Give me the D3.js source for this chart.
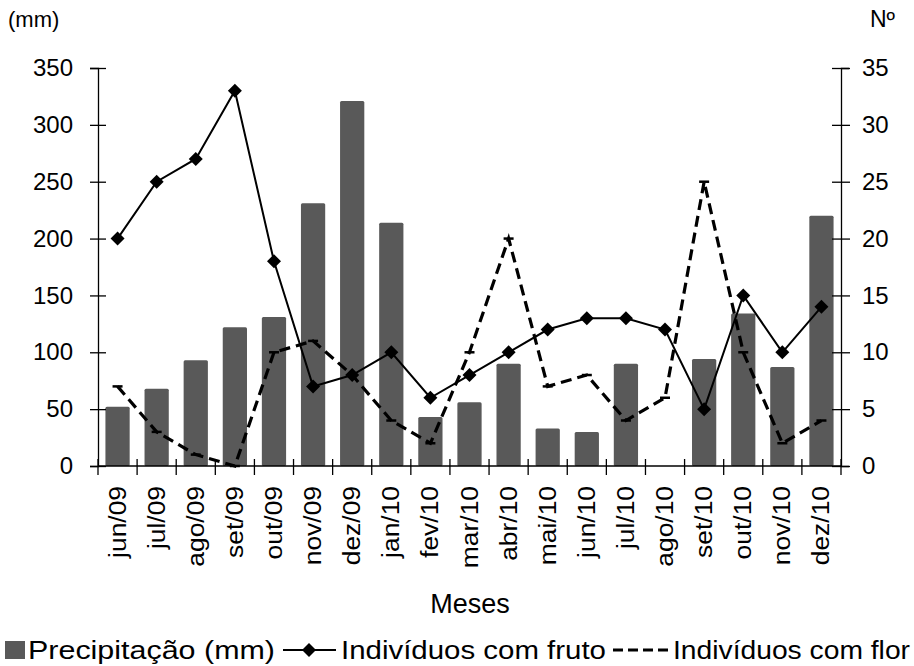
<!DOCTYPE html>
<html>
<head>
<meta charset="utf-8">
<script src="https://cdn.jsdelivr.net/npm/d3@7/dist/d3.min.js"></script>
<style>
  html, body { margin: 0; padding: 0; background: #fff; }
  svg { display: block; }
  text { font-family: "Liberation Sans", Arial, sans-serif; fill: #000; }
</style>
</head>
<body>
<svg id="chart" width="914" height="666"></svg>
<script>
const months = ["jun/09","jul/09","ago/09","set/09","out/09","nov/09","dez/09","jan/10","fev/10","mar/10","abr/10","mai/10","jun/10","jul/10","ago/10","set/10","out/10","nov/10","dez/10"];
const precipitacao = [52, 68, 93, 122, 131, 231, 321, 214, 43, 56, 90, 33, 30, 90, 0, 94, 134, 87, 220];
const fruto = [20, 25, 27, 33, 18, 7, 8, 10, 6, 8, 10, 12, 13, 13, 12, 5, 15, 10, 14];
const flor = [7, 3, 1, 0, 10, 11, 8, 4, 2, 10, 20, 7, 8, 4, 6, 25, 10, 2, 4];
const leftTicks = [0, 50, 100, 150, 200, 250, 300, 350];
const rightTicks = [0, 5, 10, 15, 20, 25, 30, 35];

const svg = d3.select("#chart");
const L = 98, R = 841, T = 68, B = 466;

const x = d3.scaleBand().domain(months).range([L, R]).paddingInner(0.38).paddingOuter(0.19);
const xc = d => x(d) + x.bandwidth() / 2;
const yL = d3.scaleLinear().domain([0, 350]).range([B, T]);
const yR = d3.scaleLinear().domain([0, 35]).range([B, T]);

// bars
svg.append("g").selectAll("rect").data(months).join("rect")
  .attr("x", d => x(d))
  .attr("width", x.bandwidth())
  .attr("y", (d, i) => yL(precipitacao[i]))
  .attr("height", (d, i) => B - yL(precipitacao[i]))
  .attr("rx", 1.5)
  .attr("fill", "#595959");

// axes
const axisColor = "#000";
const fontSize = 24;

const gLeft = svg.append("g").attr("transform", `translate(${L},0)`)
  .call(d3.axisLeft(yL).tickValues(leftTicks).tickSize(8).tickPadding(17));
gLeft.select(".domain").attr("stroke", axisColor).attr("stroke-width", 1.3);
gLeft.selectAll(".tick line").attr("x2", -8).attr("x1", 8).attr("stroke-width", 1.3);
gLeft.selectAll("text").attr("font-size", fontSize).attr("font-family", "Liberation Sans, Arial").attr("fill", "#000");

const gRight = svg.append("g").attr("transform", `translate(${R},0)`)
  .call(d3.axisRight(yR).tickValues(rightTicks).tickSize(8).tickPadding(13));
gRight.select(".domain").attr("stroke", axisColor).attr("stroke-width", 1.3);
gRight.selectAll(".tick line").attr("x1", -9).attr("x2", 9).attr("stroke-width", 1.3);
gRight.selectAll("text").attr("font-size", fontSize).attr("font-family", "Liberation Sans, Arial").attr("fill", "#000");

// bottom axis: line + tick marks between categories
const boundaries = d3.range(months.length + 1).map(i => L + i * (R - L) / months.length);
const gBot = svg.append("g");
gBot.append("line").attr("x1", L).attr("x2", R).attr("y1", B).attr("y2", B)
  .attr("stroke", axisColor).attr("stroke-width", 1.3);
gBot.selectAll("line.tk").data(boundaries).join("line").attr("class", "tk")
  .attr("x1", d => d).attr("x2", d => d).attr("y1", B - 7).attr("y2", B + 9)
  .attr("stroke", axisColor).attr("stroke-width", 1.3);
gBot.selectAll("text").data(months).join("text")
  .attr("transform", d => `translate(${xc(d) + 8},${486}) rotate(-90) scale(1.1,1)`)
  .attr("text-anchor", "end")
  .attr("font-size", fontSize)
  .text(d => d);

// lines
const lineGen = d3.line().x((d, i) => xc(months[i])).y(d => yR(d));
svg.append("path").datum(fruto).attr("d", lineGen)
  .attr("fill", "none").attr("stroke", "#000").attr("stroke-width", 2);

svg.append("path").datum(flor).attr("d", lineGen)
  .attr("fill", "none").attr("stroke", "#000").attr("stroke-width", 3.2)
  .attr("stroke-dasharray", "11,6");

// flower markers (short dashes)
svg.append("g").selectAll("line").data(flor).join("line")
  .attr("x1", (d, i) => xc(months[i]) - 5).attr("x2", (d, i) => xc(months[i]) + 5)
  .attr("y1", d => yR(d)).attr("y2", d => yR(d))
  .attr("stroke", "#000").attr("stroke-width", 2.5);

// diamonds
const diamond = "M0,-7L7,0L0,7L-7,0Z";
svg.append("g").selectAll("path").data(fruto).join("path")
  .attr("transform", (d, i) => `translate(${xc(months[i])},${yR(d)})`)
  .attr("d", diamond).attr("fill", "#000");

// axis titles
svg.append("text").attr("x", 8).attr("y", 27).attr("font-size", 22).text("(mm)");
svg.append("text").attr("x", 870).attr("y", 27).attr("font-size", 23).text("Nº");
svg.append("text").attr("x", 470).attr("y", 613).attr("text-anchor", "middle").attr("font-size", 27).text("Meses");

// legend
const lg = svg.append("g");
const ly = 659;
lg.append("rect").attr("x", 5).attr("y", 641).attr("width", 20).attr("height", 18).attr("fill", "#595959");
lg.append("text").attr("x", 28).attr("y", ly).attr("font-size", 26)
  .attr("textLength", 247).attr("lengthAdjust", "spacingAndGlyphs").text("Precipitação (mm)");
lg.append("line").attr("x1", 283).attr("x2", 336).attr("y1", 650).attr("y2", 650).attr("stroke", "#000").attr("stroke-width", 2);
lg.append("path").attr("transform", "translate(309,650)").attr("d", diamond).attr("fill", "#000");
lg.append("text").attr("x", 341).attr("y", ly).attr("font-size", 26)
  .attr("textLength", 265).attr("lengthAdjust", "spacingAndGlyphs").text("Indivíduos com fruto");
lg.append("line").attr("x1", 613).attr("x2", 668).attr("y1", 650).attr("y2", 650).attr("stroke", "#000").attr("stroke-width", 3.2)
  .attr("stroke-dasharray", "10,5");
lg.append("text").attr("x", 673).attr("y", ly).attr("font-size", 26)
  .attr("textLength", 237).attr("lengthAdjust", "spacingAndGlyphs").text("Indivíduos com flor");
</script>
</body>
</html>
